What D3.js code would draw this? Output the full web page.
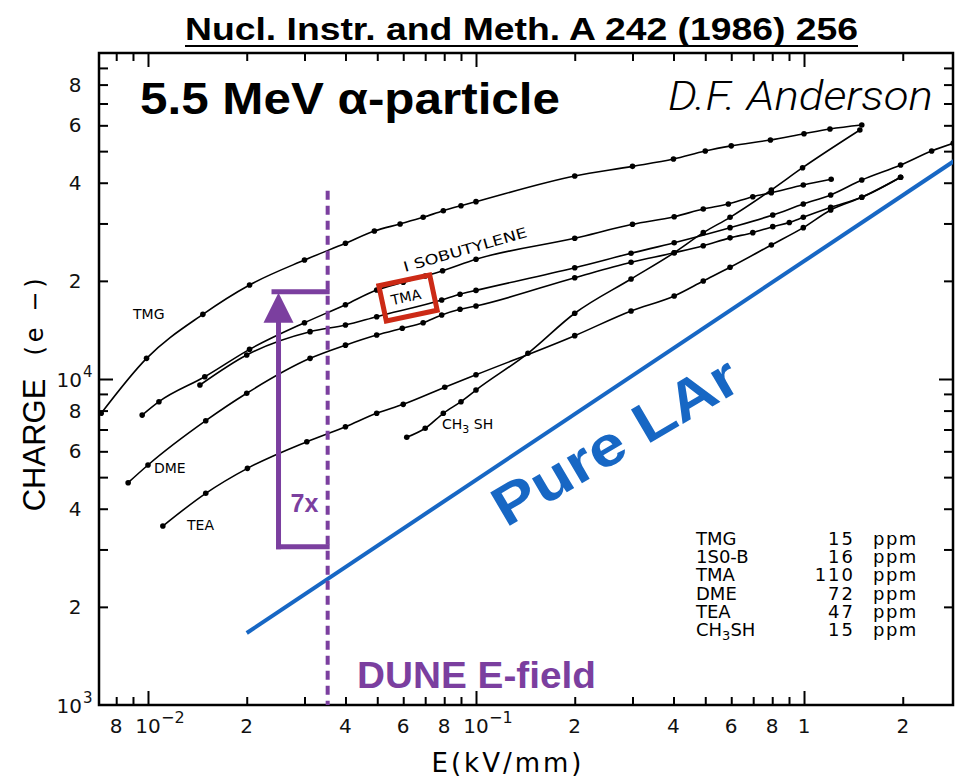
<!DOCTYPE html>
<html>
<head>
<meta charset="utf-8">
<script src="https://cdn.jsdelivr.net/npm/d3@7/dist/d3.min.js"></script>
<style>
  body { margin: 0; background: #fff; }
</style>
</head>
<body>
<div id="chart"></div>
<script>
// ---- data (E in kV/mm, charge in electrons) ----
const tmgE = [0.0072, 0.0099, 0.0147, 0.0204, 0.03, 0.04, 0.049, 0.0587, 0.069, 0.0795, 0.09, 0.1, 0.2, 0.3, 0.4, 0.5, 0.6, 0.79, 1.0, 1.2, 1.5];
const tmgQ = [7850, 11570, 15790, 19430, 23170, 26080, 28440, 29900, 31330, 32830, 34010, 34990, 41950, 44900, 47300, 50060, 51900, 54100, 56560, 58470, 60140];

const isoE = [0.0096, 0.0108, 0.0149, 0.0204, 0.03, 0.04, 0.0498, 0.06, 0.07, 0.0791, 0.1, 0.2, 0.3, 0.402, 0.493, 0.588, 0.698, 0.795, 0.995, 1.21];
const isoQ = [7750, 8520, 10160, 12330, 14880, 16900, 18750, 19800, 20700, 21490, 23290, 27020, 29820, 31470, 33220, 34420, 36240, 37280, 39360, 40980];

const tmaE = [0.0144, 0.02, 0.0312, 0.04, 0.0498, 0.0786, 0.0894, 0.1, 0.2, 0.297, 0.402, 0.595, 0.803, 0.995, 1.206, 1.5, 1.97, 2.45, 2.85];
const tmaQ = [9585, 11850, 13970, 14640, 15530, 17470, 18200, 18700, 21940, 24300, 26190, 29120, 31840, 34420, 36680, 40770, 45330, 50060, 52840];

const dmeE = [0.0087, 0.01, 0.015, 0.02, 0.0312, 0.04, 0.0498, 0.0596, 0.069, 0.0786, 0.0894, 0.1, 0.2, 0.297, 0.402, 0.493, 0.595, 0.698, 0.803, 0.902, 0.995, 1.206, 1.5, 1.97];
const dmeQ = [4807, 5447, 7450, 9040, 11570, 12700, 13640, 14310, 14880, 15720, 16360, 16750, 20450, 22800, 24400, 25640, 27100, 28110, 29330, 30200, 31330, 33620, 36090, 41560];

const teaE = [0.0111, 0.015, 0.0201, 0.0305, 0.04, 0.0498, 0.06, 0.0803, 0.1, 0.2, 0.297, 0.402, 0.493, 0.595, 0.795, 0.995, 1.206, 1.5, 1.97];
const teaQ = [3540, 4460, 5320, 6420, 7140, 7850, 8360, 9430, 10300, 13580, 16170, 17980, 19980, 22010, 25760, 29120, 33000, 36090, 41560];

const ch3shE = [0.0615, 0.07, 0.0795, 0.09, 0.1, 0.144, 0.2, 0.297, 0.402, 0.493, 0.595, 0.795, 0.99, 1.48];
const ch3shQ = [6625, 7060, 7850, 8520, 9250, 11990, 15910, 20270, 24400, 28110, 31330, 38000, 44480, 58050];

// pure LAr line end points
const larE = [0.02, 2.9];
const larQ = [1663, 46970];

// DUNE field and 7x arrow
const duneE = 0.0353;
const duneTopQ = 37800;
const arrowE = 0.025;
const arrowTopQ = 18530;
const arrowBottomQ = 3060;

// legend table
const legendNames = ["TMG", "1S0-B", "TMA", "DME", "TEA", "CH3SH"];
const legendPpm = ["15", "16", "110", "72", "47", "15"];

// ticks
const xMajor = [0.01, 0.1, 1];
const xMinor = [0.008, 0.009, 0.02, 0.03, 0.04, 0.05, 0.06, 0.07, 0.08, 0.09, 0.2, 0.3, 0.4, 0.5, 0.6, 0.7, 0.8, 0.9, 2];
const xLabelVals = [0.008, 0.01, 0.02, 0.04, 0.06, 0.08, 0.1, 0.2, 0.4, 0.6, 0.8, 1, 2];
const xLabelText = ["8", "10", "2", "4", "6", "8", "10", "2", "4", "6", "8", "1", "2"];
const xLabelSup = ["", "-2", "", "", "", "", "-1", "", "", "", "", "", ""];

const yMajor = [1e4];
const yMinor = [2000, 3000, 4000, 5000, 6000, 7000, 8000, 9000, 20000, 30000, 40000, 50000, 60000, 70000, 80000, 90000];
const yLabelVals = [80000, 60000, 40000, 20000, 10000, 8000, 6000, 4000, 2000, 1000];
const yLabelText = ["8", "6", "4", "2", "10", "8", "6", "4", "2", "10"];
const yLabelSup = ["", "", "", "", "4", "", "", "", "", "3"];

// ---- drawing ----
const W = 957, H = 781;
const plot = { left: 99, right: 953, top: 53, bottom: 705 };
const blue = "#1767c4";
const purple = "#7b3f9f";
const red = "#cc2a16";
const letterFont = "DejaVu Sans, sans-serif";

const svg = d3.select("#chart").append("svg")
  .attr("width", W).attr("height", H)
  .style("font-family", letterFont);

const x = d3.scaleLog().domain([0.00709, 2.846]).range([plot.left, plot.right]);
const y = d3.scaleLog().domain([1e3, 1e5]).range([plot.bottom, plot.top]);

svg.append("clipPath").attr("id", "clip")
  .append("rect")
  .attr("x", plot.left).attr("y", plot.top)
  .attr("width", plot.right - plot.left).attr("height", plot.bottom - plot.top);

// axes: minor and major ticks, pointing inward on all four sides
function ticks(axis, transform) {
  svg.append("g")
    .attr("transform", transform)
    .call(axis.tickSizeOuter(0).tickFormat(""))
    .call(g => g.select(".domain").remove())
    .call(g => g.selectAll("line").attr("stroke", "#000").attr("stroke-width", 2));
}
ticks(d3.axisBottom(x).tickValues(xMinor).tickSizeInner(-8), `translate(0,${plot.bottom})`);
ticks(d3.axisBottom(x).tickValues(xMajor).tickSizeInner(-14), `translate(0,${plot.bottom})`);
ticks(d3.axisTop(x).tickValues(xMinor).tickSizeInner(-8), `translate(0,${plot.top})`);
ticks(d3.axisTop(x).tickValues(xMajor).tickSizeInner(-14), `translate(0,${plot.top})`);
ticks(d3.axisLeft(y).tickValues(yMinor).tickSizeInner(-9), `translate(${plot.left},0)`);
ticks(d3.axisLeft(y).tickValues(yMajor).tickSizeInner(-14), `translate(${plot.left},0)`);
ticks(d3.axisRight(y).tickValues(yMinor).tickSizeInner(-9), `translate(${plot.right},0)`);
ticks(d3.axisRight(y).tickValues(yMajor).tickSizeInner(-14), `translate(${plot.right},0)`);

svg.append("rect")
  .attr("x", plot.left).attr("y", plot.top)
  .attr("width", plot.right - plot.left).attr("height", plot.bottom - plot.top)
  .attr("fill", "none").attr("stroke", "#000").attr("stroke-width", 2.5);

// x tick labels
const xl = svg.append("g").attr("font-size", 20).attr("fill", "#111");
xLabelVals.forEach((v, i) => {
  xl.append("text").attr("x", x(v)).attr("y", plot.bottom + 28)
    .attr("text-anchor", "middle").text(xLabelText[i]);
  if (xLabelSup[i]) {
    xl.append("text").attr("x", x(v) + 13).attr("y", plot.bottom + 18)
      .attr("font-size", 16).text(xLabelSup[i].replace("-", "\u2212"));
  }
});

// y tick labels
const yl = svg.append("g").attr("font-size", 20).attr("fill", "#111");
yLabelVals.forEach((v, i) => {
  if (yLabelSup[i]) {
    yl.append("text").attr("x", plot.left - 17).attr("y", y(v) + 8)
      .attr("text-anchor", "end").text(yLabelText[i]);
    yl.append("text").attr("x", plot.left - 16).attr("y", y(v) - 2)
      .attr("font-size", 15).text(yLabelSup[i]);
  } else {
    yl.append("text").attr("x", plot.left - 24).attr("y", y(v) + 7)
      .attr("text-anchor", "middle").text(yLabelText[i]);
  }
});

// axis titles
svg.append("text")
  .attr("x", 508).attr("y", 772)
  .attr("text-anchor", "middle").attr("font-size", 26)
  .attr("letter-spacing", 3)
  .text("E(kV/mm)");

svg.append("g").attr("transform", "translate(45,0) rotate(-90)")
  .call(g => g.append("text")
    .attr("x", -445).attr("y", 0)
    .attr("text-anchor", "middle")
    .attr("font-family", "Liberation Sans, Arial, sans-serif")
    .attr("font-size", 31)
    .text("CHARGE"))
  .call(g => g.append("text")
    .attr("x", -315).attr("y", -2)
    .attr("text-anchor", "middle")
    .attr("font-size", 24)
    .attr("letter-spacing", 4)
    .text("(e \u2212)"));

// data curves
const series = [
  { e: tmgE, q: tmgQ },
  { e: isoE, q: isoQ },
  { e: tmaE, q: tmaQ },
  { e: dmeE, q: dmeQ },
  { e: teaE, q: teaQ },
  { e: ch3shE, q: ch3shQ }
];

const line = d3.line()
  .x(d => x(d[0]))
  .y(d => y(d[1]))
  .curve(d3.curveMonotoneX);

const curves = svg.append("g").attr("clip-path", "url(#clip)");
series.forEach(s => {
  const pts = s.e.map((e, i) => [e, s.q[i]]);
  curves.append("path")
    .datum(pts)
    .attr("d", line)
    .attr("fill", "none")
    .attr("stroke", "#000")
    .attr("stroke-width", 1.6);
  curves.selectAll(null)
    .data(pts)
    .join("circle")
    .attr("cx", d => x(d[0]))
    .attr("cy", d => y(d[1]))
    .attr("r", 2.8)
    .attr("fill", "#000");
});

// curve labels
const lab = svg.append("g").attr("font-size", 14).attr("fill", "#000");
lab.append("text").attr("x", 133).attr("y", 319).text("TMG");
lab.append("text").attr("x", 154).attr("y", 473).text("DME");
lab.append("text").attr("x", 187).attr("y", 530).text("TEA");
lab.append("text").attr("x", 442).attr("y", 429)
  .call(t => t.append("tspan").text("CH"))
  .call(t => t.append("tspan").attr("font-size", 11).attr("dy", 4).text("3"))
  .call(t => t.append("tspan").attr("dy", -4).text(" SH"));
lab.append("text")
  .attr("transform", "translate(405,272) rotate(-16)")
  .attr("textLength", 128).attr("lengthAdjust", "spacingAndGlyphs")
  .text("I SOBUTYLENE");
lab.append("text")
  .attr("transform", "translate(407,302) rotate(-12)")
  .attr("text-anchor", "middle")
  .text("TMA");

// red highlight box around TMA label
svg.append("rect")
  .attr("transform", "translate(408,298) rotate(-12)")
  .attr("x", -26).attr("y", -18)
  .attr("width", 52).attr("height", 36)
  .attr("fill", "none").attr("stroke", red).attr("stroke-width", 5);

// pure LAr
svg.append("path")
  .datum(larE.map((e, i) => [e, larQ[i]]))
  .attr("clip-path", "url(#clip)")
  .attr("d", d3.line().x(d => x(d[0])).y(d => y(d[1])))
  .attr("stroke", blue).attr("stroke-width", 4).attr("fill", "none");

svg.append("text")
  .attr("transform", "translate(506,528) rotate(-30.5)")
  .attr("font-family", "Liberation Sans, Arial, sans-serif")
  .attr("font-weight", "bold").attr("font-size", 56)
  .attr("textLength", 276).attr("lengthAdjust", "spacingAndGlyphs")
  .attr("fill", blue)
  .text("Pure LAr");

// DUNE field line and 7x arrow
svg.append("line")
  .attr("x1", x(duneE)).attr("x2", x(duneE))
  .attr("y1", y(duneTopQ)).attr("y2", plot.bottom)
  .attr("stroke", purple).attr("stroke-width", 4)
  .attr("stroke-dasharray", "9,6");

const ax = x(arrowE), yTop = y(arrowTopQ), yBot = y(arrowBottomQ), xd = x(duneE);
const arr = svg.append("g").attr("stroke", purple).attr("stroke-width", 5).attr("fill", "none");
arr.append("line").attr("x1", ax - 7).attr("x2", xd + 2).attr("y1", yTop).attr("y2", yTop);
arr.append("line").attr("x1", ax).attr("x2", ax).attr("y1", yTop + 28).attr("y2", yBot + 2.5);
arr.append("line").attr("x1", ax - 2.5).attr("x2", xd + 2).attr("y1", yBot).attr("y2", yBot);
svg.append("path")
  .attr("d", `M${ax},${yTop + 1}L${ax - 15},${yTop + 31}L${ax + 15},${yTop + 31}Z`)
  .attr("fill", purple);

svg.append("text")
  .attr("x", ax + 12).attr("y", 512)
  .attr("font-family", "Liberation Sans, Arial, sans-serif")
  .attr("font-weight", "bold").attr("font-size", 25)
  .attr("fill", purple)
  .text("7x");

svg.append("text")
  .attr("x", 357).attr("y", 688)
  .attr("font-family", "Liberation Sans, Arial, sans-serif")
  .attr("font-weight", "bold").attr("font-size", 36)
  .attr("textLength", 239).attr("lengthAdjust", "spacingAndGlyphs")
  .attr("fill", purple)
  .text("DUNE E-field");

// legend table
const leg = svg.append("g").attr("font-size", 18).attr("fill", "#000");
legendNames.forEach((n, i) => {
  const yy = 545 + i * 18.2;
  const t = leg.append("text").attr("x", 696).attr("y", yy);
  if (n === "CH3SH") {
    t.append("tspan").text("CH");
    t.append("tspan").attr("font-size", 13).attr("dy", 4).text("3");
    t.append("tspan").attr("dy", -4).text("SH");
  } else {
    t.text(n);
  }
  leg.append("text").attr("x", 855).attr("y", yy).attr("text-anchor", "end")
    .attr("letter-spacing", 2).text(legendPpm[i]);
  leg.append("text").attr("x", 873).attr("y", yy).attr("letter-spacing", 1.5).text("ppm");
});

// titles
svg.append("text")
  .attr("x", 185).attr("y", 40)
  .attr("font-family", "Liberation Sans Narrow, Liberation Sans, Arial, sans-serif")
  .attr("font-weight", "bold").attr("font-size", 32)
  .attr("textLength", 673).attr("lengthAdjust", "spacingAndGlyphs")
  .text("Nucl. Instr. and Meth. A 242 (1986) 256");
svg.append("line")
  .attr("x1", 185).attr("x2", 858).attr("y1", 46).attr("y2", 46)
  .attr("stroke", "#000").attr("stroke-width", 2);

svg.append("text")
  .attr("x", 140).attr("y", 114)
  .attr("font-family", "Liberation Sans, Arial, sans-serif")
  .attr("font-weight", "bold").attr("font-size", 45)
  .attr("textLength", 420).attr("lengthAdjust", "spacingAndGlyphs")
  .text("5.5 MeV \u03b1-particle");

svg.append("text")
  .attr("x", 668).attr("y", 110)
  .attr("font-family", "Roboto, Liberation Sans, sans-serif")
  .attr("font-weight", 300).attr("font-style", "italic").attr("font-size", 41)
  .attr("textLength", 265).attr("lengthAdjust", "spacingAndGlyphs")
  .text("D.F. Anderson");
</script>
</body>
</html>
